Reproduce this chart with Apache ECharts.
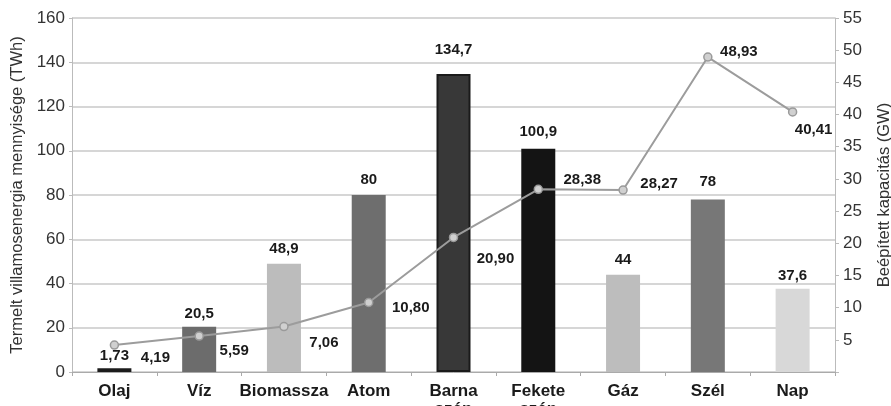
<!DOCTYPE html>
<html>
<head>
<meta charset="utf-8">
<script src="https://cdn.jsdelivr.net/npm/echarts@6/dist/echarts.min.js"></script>
<style>
  html, body { margin: 0; padding: 0; background: #fff; }
  #chart { width: 891px; height: 406px; }
</style>
</head>
<body>
<div id="chart"></div>
<script>
  // kategóriák és adatok
  var categories = ['Olaj', 'Víz', 'Biomassza', 'Atom', 'Barna\nszén', 'Fekete\nszén', 'Gáz', 'Szél', 'Nap'];
  var termeles = [1.73, 20.5, 48.9, 80, 134.7, 100.9, 44, 78, 37.6];          // TWh
  var kapacitas = [4.19, 5.59, 7.06, 10.80, 20.90, 28.38, 28.27, 48.93, 40.41]; // GW
  var kapacitasCimkek = ['4,19', '5,59', '7,06', '10,80', '20,90', '28,38', '28,27', '48,93', '40,41'];

  // stílus: oszlopszínek, címketávolságok és a vonalcímkék eltolása
  var barColors = ['#1c1c1c', '#6c6c6c', '#bcbcbc', '#6e6e6e', '#383838', '#141414', '#bdbdbd', '#777777', '#d8d8d8'];
  var barLabelDistances = [5, 5, 7, 8, 17, 9, 7, 10, 5];
  var lineLabelOffsets = [[41, 13], [35, 15], [40, 16], [42, 5], [42, 21], [44, -9], [36, -6], [31, -5], [21, 18]];

  function fmt(v) {
    return String(v).replace('.', ',');
  }

  var chart = echarts.init(document.getElementById('chart'));

  var barData = termeles.map(function (v, i) {
    var item = {
      value: v,
      itemStyle: {color: barColors[i]},
      label: {distance: barLabelDistances[i]}
    };
    if (i === 4) {
      item.itemStyle.borderColor = '#1a1a1a';
      item.itemStyle.borderWidth = 2;
    }
    return item;
  });

  var lineData = kapacitas.map(function (v, i) {
    return {
      value: v,
      label: {
        show: true,
        position: 'inside',
        offset: lineLabelOffsets[i],
        formatter: kapacitasCimkek[i]
      }
    };
  });

  chart.setOption({
    animation: false,
    textStyle: {fontFamily: 'Liberation Sans, Arial, sans-serif'},
    grid: {left: 72, right: 56, top: 18, bottom: 34, outerBoundsMode: 'none', containLabel: false},
    xAxis: {
      type: 'category',
      data: categories,
      axisLine: {lineStyle: {color: '#aaaaaa'}},
      axisTick: {show: true, length: 4, lineStyle: {color: '#aaaaaa'}},
      axisLabel: {
        color: '#1a1a1a',
        fontWeight: 'bold',
        fontSize: 17,
        margin: 10,
        lineHeight: 18,
        interval: 0
      }
    },
    yAxis: [
      {
        type: 'value',
        min: 0,
        max: 160,
        interval: 20,
        name: 'Termelt villamosenergia mennyisége (TWh)',
        nameLocation: 'middle',
        nameGap: 45,
        nameTextStyle: {fontSize: 16.5, color: '#333'},
        axisLine: {show: true, lineStyle: {color: '#bbbbbb'}},
        axisTick: {show: true, length: 3, lineStyle: {color: '#bbbbbb'}},
        axisLabel: {color: '#333', fontSize: 17, margin: 7},
        splitLine: {lineStyle: {color: '#d6d6d6', width: 2}}
      },
      {
        type: 'value',
        min: 0,
        max: 55,
        interval: 5,
        name: 'Beépített kapacitás (GW)',
        nameLocation: 'middle',
        nameGap: 41,
        nameTextStyle: {fontSize: 16.5, color: '#333'},
        axisLine: {show: true, lineStyle: {color: '#bbbbbb'}},
        axisTick: {show: true, length: 4, lineStyle: {color: '#bbbbbb'}},
        axisLabel: {
          color: '#333',
          fontSize: 17,
          margin: 8,
          formatter: function (v) { return v === 0 ? '' : v; }
        },
        splitLine: {show: false}
      }
    ],
    series: [
      {
        name: 'Termelés',
        type: 'bar',
        barWidth: 34,
        data: barData,
        label: {
          show: true,
          position: 'top',
          color: '#1a1a1a',
          fontWeight: 'bold',
          fontSize: 15,
          formatter: function (p) { return fmt(p.value); }
        }
      },
      {
        name: 'Kapacitás',
        type: 'line',
        yAxisIndex: 1,
        data: lineData,
        symbol: 'circle',
        symbolSize: 8,
        lineStyle: {color: '#9c9c9c', width: 2},
        itemStyle: {color: '#d0d0d0', borderColor: '#9a9a9a', borderWidth: 1.5},
        label: {
          color: '#1a1a1a',
          fontWeight: 'bold',
          fontSize: 15
        },
        z: 5
      }
    ]
  });
</script>
</body>
</html>
